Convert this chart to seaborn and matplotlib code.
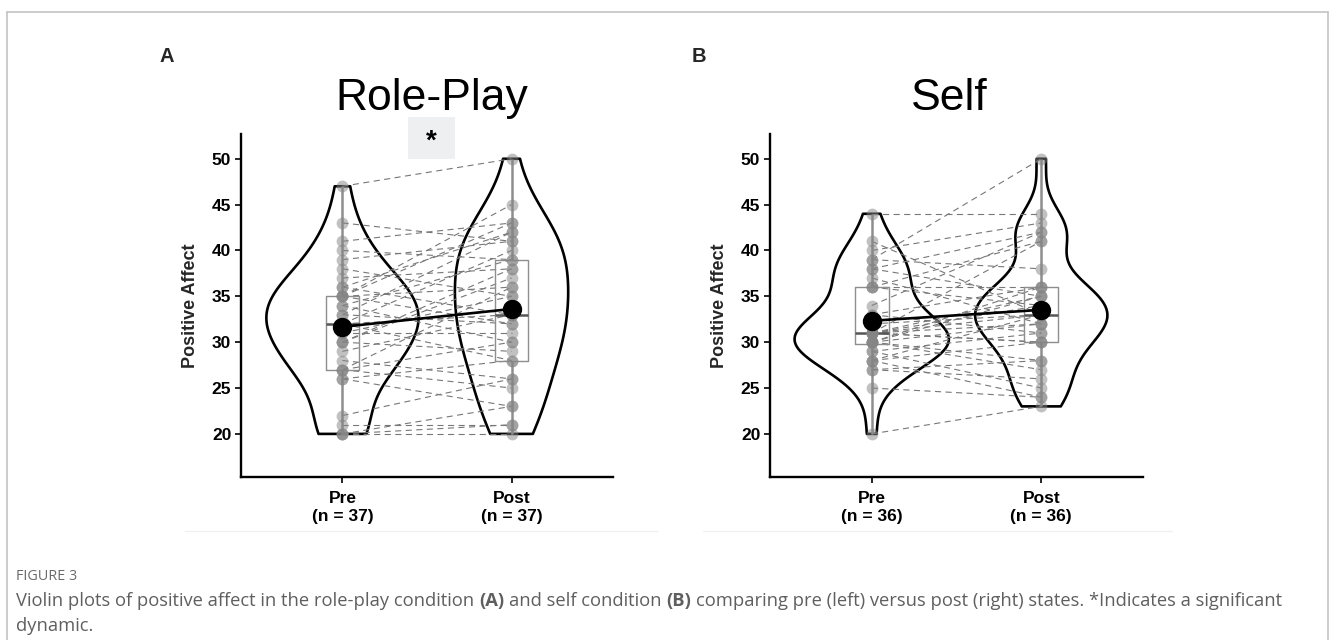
import numpy as np
import pandas as pd
import matplotlib
matplotlib.use("Agg")
import matplotlib.pyplot as plt
import seaborn as sns
from matplotlib.patches import Rectangle
from matplotlib.lines import Line2D

# ---------------- data (participant order: pre[i] pairs with post[i]) ----------------
times = ["Pre", "Post"]

pre_A = [20, 20, 20, 21, 22, 26, 26, 27, 27, 27, 28, 29, 30, 30, 30, 31, 31, 32, 32,
         32, 33, 33, 34, 34, 35, 35, 35, 35, 36, 36, 37, 38, 39, 40, 41, 43, 47]
post_A = [20, 21, 23, 21, 26, 23, 28, 25, 30, 36, 26, 33, 29, 38, 37, 31, 35, 28, 33,
          40, 32, 42, 30, 39, 32, 36, 43, 45, 33, 42, 38, 35, 41, 39, 43, 41, 50]

pre_B = [20, 25, 27, 27, 28, 28, 28, 29, 29, 30, 30, 30, 30, 30, 31, 31, 31, 31,
         31, 31, 31, 32, 33, 33, 34, 36, 36, 36, 37, 38, 38, 39, 39, 40, 41, 44]
post_B = [23, 24, 26, 28, 24, 30, 33, 25, 31, 27, 28, 32, 35, 36, 30, 32, 33, 34,
          35, 41, 30, 33, 31, 36, 42, 34, 41, 36, 32, 35, 42, 50, 38, 43, 33, 44]

titles = ["Role-Play", "Self"]
panel_letters = ["A", "B"]
y_ticks = [20, 25, 30, 35, 40, 45, 50]
y_label = "Positive Affect"
significance = ["*", None]

caption_head = "FIGURE 3"
caption_line1 = [("Violin plots of positive affect in the role-play condition", "normal"),
                 ("(A)", "bold"), ("and self condition", "normal"), ("(B)", "bold"),
                 ("comparing pre (left) versus post (right) states. *Indicates a significant", "normal")]
caption_line2 = "dynamic."

# ---------------- styling ----------------
sns.set_theme(style="ticks")
plt.rcParams["font.family"] = ["Liberation Sans", "DejaVu Sans"]

W, H = 1333, 640
fig = plt.figure(figsize=(W / 100, H / 100), dpi=100)

def px_axes(l, t, r, b):
    return [l / W, 1 - b / H, (r - l) / W, (b - t) / H]

axes = [fig.add_axes(px_axes(241, 134, 613, 477)),
        fig.add_axes(px_axes(770, 134, 1143, 477))]

violin_widths = [[0.90, 0.67], [0.91, 0.78]]
title_centers_px = [432, 949]

def bw_factor(v):
    v = np.asarray(v, float)
    sd = v.std(ddof=1)
    iqr = np.subtract(*np.percentile(v, [75, 25]))
    h = 0.9 * min(sd, iqr / 1.34) * len(v) ** (-0.2)
    return 1.2 * h / sd

panels = [(pre_A, post_A), (pre_B, post_B)]
for k, (ax, (pre, post)) in enumerate(zip(axes, panels)):
    n = len(pre)
    df = pd.DataFrame({
        "id": list(range(n)) * 2,
        "time": ["Pre"] * n + ["Post"] * n,
        "value": list(pre) + list(post),
    })
    df["pos"] = df["time"].map({t: i for i, t in enumerate(times)})

    # violins (one per time point so each gets its own bandwidth / width)
    for j, t in enumerate(times):
        sub = df[df["time"] == t]
        sns.violinplot(data=sub, x="time", y="value", order=times, cut=0, inner=None,
                       fill=False, color="black", linecolor="black", linewidth=1.9,
                       width=violin_widths[k][j], density_norm="width",
                       bw_method=bw_factor(sub["value"]), ax=ax)

    # paired dashed lines
    sns.lineplot(data=df, x="pos", y="value", units="id", estimator=None,
                 color="#777777", linewidth=0.8, linestyle=(0, (5.5, 4)),
                 ax=ax, legend=False, zorder=1.5)

    # boxes
    sns.boxplot(data=df, x="time", y="value", order=times, width=0.2, whis=np.inf,
                fill=False, color="#8e8e8e", linecolor="#8e8e8e", linewidth=1.0,
                showcaps=False, showfliers=False,
                whiskerprops=dict(color="#8e8e8e", linewidth=1.8),
                medianprops=dict(color="#555555", linewidth=1.8), ax=ax)

    # individual points
    sns.stripplot(data=df, x="time", y="value", order=times, jitter=False,
                  color="#858585", alpha=0.5, size=8.5, linewidth=0, ax=ax, zorder=3)

    # means
    sns.pointplot(data=df, x="time", y="value", order=times, estimator="mean",
                  errorbar=None, color="black", markersize=12.5, linewidth=1.9,
                  ax=ax, zorder=5)

    ax.set_xlim(-0.6, 1.6)
    ax.set_ylim(15.3, 52.7)
    ax.set_yticks(y_ticks)
    ax.set_yticklabels([str(v) for v in y_ticks], fontsize=12.5, fontweight="bold")
    ax.set_xticks(range(len(times)))
    ax.set_xticklabels([f"{t}\n(n = {n})" for t in times], fontsize=12.5,
                       fontweight="bold", linespacing=1.25)
    ax.set_xlabel("")
    ax.set_ylabel(y_label, fontsize=13, fontweight="bold", labelpad=9)
    for s in ["top", "right"]:
        ax.spines[s].set_visible(False)
    for s in ["left", "bottom"]:
        ax.spines[s].set_linewidth(1.7)
        ax.spines[s].set_color("black")
    ax.tick_params(axis="both", length=4, width=1.2, color="black", labelcolor="black")
    ax.tick_params(axis="x", pad=6)
    ax.tick_params(axis="y", pad=3)
    ax.set_facecolor("white")

    # title
    fig.text(title_centers_px[k] / W, 1 - 110 / H, titles[k], ha="center", va="baseline",
             fontsize=32, color="black")

    if significance[k]:
        ax.add_patch(Rectangle((0.39, 50.0), 0.275, 4.5, facecolor="#eeeff1",
                               edgecolor="none", clip_on=False, zorder=0.5))
        ax.text(0.527, 51.9, significance[k], ha="center", va="center",
                fontsize=20, fontweight="bold", color="black", clip_on=False)

fig.text(167 / W, 1 - 57 / H, panel_letters[0], ha="center", va="center",
         fontsize=14.5, fontweight="bold")
fig.text(699 / W, 1 - 57 / H, panel_letters[1], ha="center", va="center",
         fontsize=14.5, fontweight="bold")

# faint separators under the tick labels
fig.add_artist(Line2D([185 / W, 657 / W], [1 - 531 / H] * 2, color="#f0f0f0", lw=1))
fig.add_artist(Line2D([703 / W, 1172 / W], [1 - 531 / H] * 2, color="#f0f0f0", lw=1))

# outer frame (open at bottom)
frame_col = "#c4c4c4"
fig.add_artist(Line2D([7 / W, 7 / W], [0, 1 - 12 / H], color=frame_col, lw=1.2))
fig.add_artist(Line2D([7 / W, 1328 / W], [1 - 12 / H] * 2, color=frame_col, lw=1.2))
fig.add_artist(Line2D([1328 / W, 1328 / W], [0, 1 - 12 / H], color=frame_col, lw=1.2))

# ---------------- caption ----------------
cap_font = ["Open Sans", "DejaVu Sans"]
cap_col = "#5f5f5f"
renderer = fig.canvas.get_renderer()

def text_width(s, size, weight):
    t = fig.text(0, 0, s, fontsize=size, fontweight=weight, family=cap_font)
    w = t.get_window_extent(renderer).width
    t.remove()
    return w

def line_width(segs, size):
    sp = text_width("a a", size, "normal") - text_width("aa", size, "normal")
    return sum(text_width(s, size, w) for s, w in segs) + sp * (len(segs) - 1), sp

base = 11.0
w0, _ = line_width(caption_line1, base)
cap_size = base * (1290 - 16) / w0
_, space = line_width(caption_line1, cap_size)

x = 16.0
for s, wgt in caption_line1:
    fig.text(x / W, 1 - 606 / H, s, fontsize=cap_size, fontweight=wgt, family=cap_font,
             color=cap_col, ha="left", va="baseline")
    x += text_width(s, cap_size, wgt) + space
fig.text(16 / W, 1 - 631 / H, caption_line2, fontsize=cap_size, family=cap_font,
         color=cap_col, ha="left", va="baseline")
fig.text(16 / W, 1 - 580 / H, caption_head, fontsize=cap_size * 0.78, family=cap_font,
         color="#6a6a6a", ha="left", va="baseline")

fig.savefig("out.png", dpi=100, facecolor="white")
